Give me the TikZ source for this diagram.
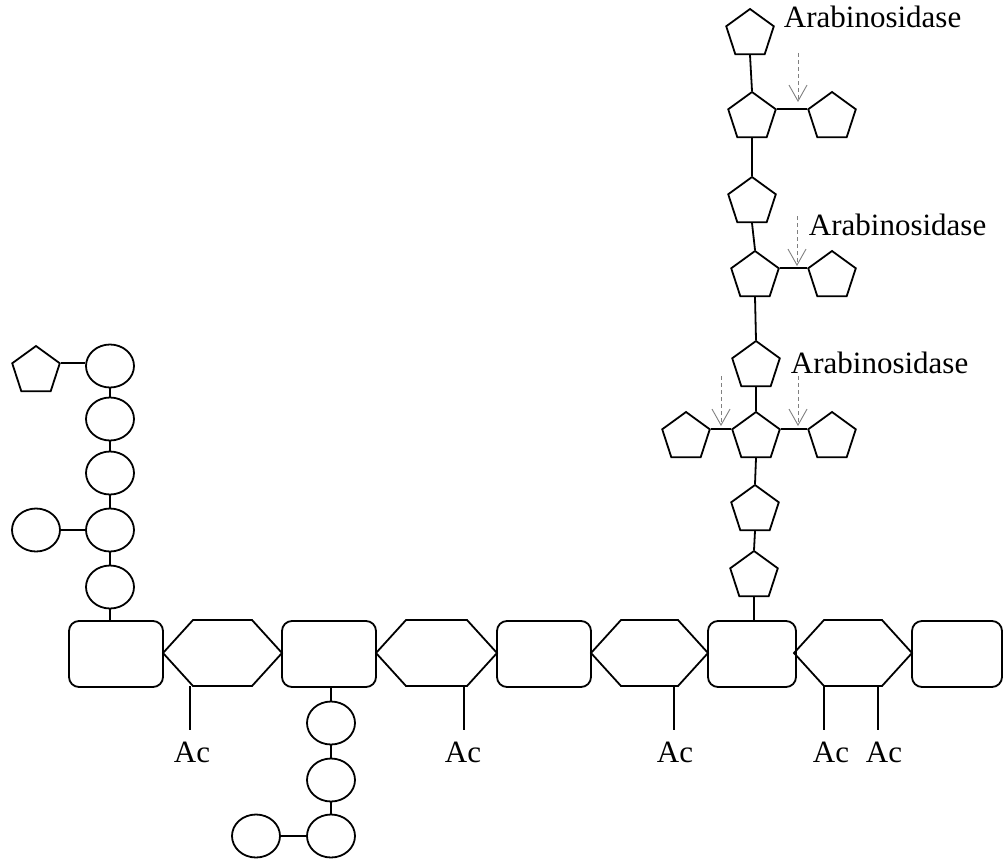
\documentclass[tikz,border=0pt]{standalone}
\usepackage{fontspec}
\setmainfont{Liberation Serif}
\usetikzlibrary{shapes.geometric,arrows.meta}
\begin{document}
\begin{tikzpicture}[x=1pt,y=-1pt,line width=1.8pt,
  pent/.style={draw, regular polygon, regular polygon sides=5, minimum size=50pt, inner sep=0pt},
  sug/.style={draw, ellipse, minimum width=48pt, minimum height=43pt, inner sep=0pt},
  xyl/.style={draw, rounded corners=10pt, minimum height=66pt, minimum width=#1, inner sep=0pt},
  hexb/.style={minimum width=#1, minimum height=66pt, inner sep=0pt, outer sep=0pt},
  lbl/.style={font=\fontsize{31}{37}\selectfont},
  ac/.style={lbl, anchor=base, inner xsep=0pt, inner ysep=11pt},
  enz/.style={lbl, anchor=base west, inner sep=0pt},
  cut/.style={draw=gray, line width=0.9pt, dash pattern=on 4pt off 3pt, -{Straight Barb[length=16pt,width=18pt]}}
]
\useasboundingbox (0,0) rectangle (1008,859);

% backbone: rounded rectangles
\node[xyl=94pt] (r1) at (116,654) {};
\node[xyl=94pt] (r2) at (329,654) {};
\node[xyl=94pt] (r3) at (544,654) {};
\node[xyl=88pt] (r4) at (752,654) {};
\node[xyl=90pt] (r5) at (957,654) {};

% backbone: hexagons
\node[hexb=119pt] (h1) at (222.5,653) {};
\node[hexb=121pt] (h2) at (436.5,653) {};
\node[hexb=117pt] (h3) at (649.5,653) {};
\node[hexb=118pt] (h4) at (853,653) {};
\foreach \h in {h1,h2,h3,h4}{
  \draw (\h.west) -- ([xshift=30pt]\h.north west) -- ([xshift=-30pt]\h.north east)
    -- (\h.east) -- ([xshift=-30pt]\h.south east) -- ([xshift=30pt]\h.south west) -- cycle;
}

% acetyl groups
\node[ac] (a1) at (192,762) {Ac};
\node[ac] (a2) at (463,762) {Ac};
\node[ac] (a3) at (675,762) {Ac};
\node[ac] (a4) at (831,762) {Ac};
\node[ac] (a5) at (884,762) {Ac};
\draw ([xshift=-2pt]a1.north |- h1.south) -- ([xshift=-2pt]a1.north);
\draw ([xshift=1pt]a2.north |- h2.south) -- ([xshift=1pt]a2.north);
\draw ([xshift=-1pt]a3.north |- h3.south) -- ([xshift=-1pt]a3.north);
\draw ([xshift=-7pt]a4.north |- h4.south) -- ([xshift=-7pt]a4.north);
\draw ([xshift=-6pt]a5.north |- h4.south) -- ([xshift=-6pt]a5.north);

% left side chain
\node[sug] (e1) at (110,366) {};
\node[sug] (e2) at (110,419) {};
\node[sug] (e3) at (110,473) {};
\node[sug] (e4) at (110,530) {};
\node[sug] (e5) at (110,587) {};
\node[sug] (es) at (36,530) {};
\node[pent] (p0) at (36,371) {};
\draw (p0.corner 5) -- (p0.corner 5 -| e1.west);
\draw (e1.south) -- (e2.north);
\draw (e2.south) -- (e3.north);
\draw (e3.south) -- (e4.north);
\draw (e4.south) -- (e5.north);
\draw (e5.south) -- (e5.south |- r1.north);
\draw (es.east) -- (e4.west);

% bottom side chain
\node[sug] (b1) at (331,723) {};
\node[sug] (b2) at (331,780) {};
\node[sug] (b3) at (331,836) {};
\node[sug] (bs) at (256,836) {};
\draw (b1.north |- r2.south) -- (b1.north);
\draw (b1.south) -- (b2.north);
\draw (b2.south) -- (b3.north);
\draw (bs.east) -- (b3.west);

% arabinan side chain
\node[pent] (p1) at (750,34) {};
\node[pent] (p2) at (752,117) {};
\node[pent] (p3) at (832,117) {};
\node[pent] (p4) at (752,202) {};
\node[pent] (p5) at (755,276) {};
\node[pent] (p6) at (832,276) {};
\node[pent] (p7) at (756,366) {};
\node[pent] (p8) at (756,437) {};
\node[pent] (p9) at (686,437) {};
\node[pent] (p10) at (832,437) {};
\node[pent] (p11) at (755,510) {};
\node[pent] (p12) at (754,576) {};
\draw (p1.side 3) -- (p2.corner 1);
\draw (p2.side 3) -- (p4.corner 1);
\draw (p4.side 3) -- (p5.corner 1);
\draw (p5.side 3) -- (p7.corner 1);
\draw (p7.side 3) -- (p8.corner 1);
\draw (p8.side 3) -- (p11.corner 1);
\draw (p11.side 3) -- (p12.corner 1);
\draw (p12.side 3) -- (p12.side 3 |- r4.north);
\draw (p2.corner 5) -- (p3.corner 2);
\draw (p5.corner 5) -- (p6.corner 2);
\draw (p9.corner 5) -- (p8.corner 2);
\draw (p8.corner 5) -- (p10.corner 2);

% enzyme labels and cleavage arrows
\node[enz] (l1) at (783,28) {Arabinosidase};
\node[enz] (l2) at (808,235) {Arabinosidase};
\node[enz] (l3) at (790,373) {Arabinosidase};
\coordinate (c1s) at (798,53);  \coordinate (c1e) at (798,102);
\coordinate (c2s) at (797,216); \coordinate (c2e) at (797,266);
\coordinate (c3s) at (721,376); \coordinate (c3e) at (721,426);
\coordinate (c4s) at (798,376); \coordinate (c4e) at (798,426);
\draw[cut] (c1s) -- (c1e);
\draw[cut] (c2s) -- (c2e);
\draw[cut] (c3s) -- (c3e);
\draw[cut] (c4s) -- (c4e);
\end{tikzpicture}
\end{document}
